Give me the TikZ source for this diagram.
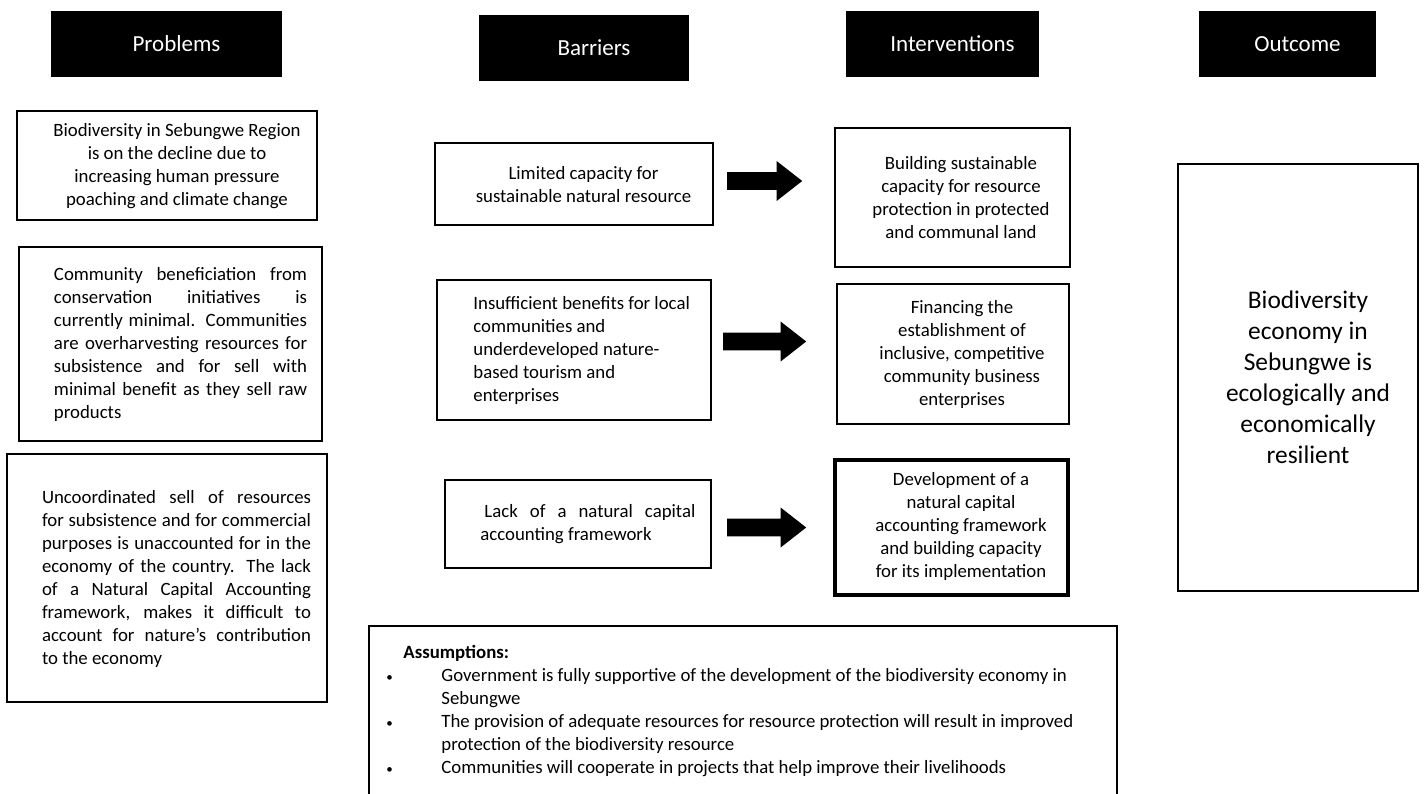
\documentclass[tikz,border=0pt]{standalone}
\usepackage{fontspec}
\setmainfont{Carlito}
\usetikzlibrary{shapes.arrows}
\newcommand\jl[2]{\makebox[#1][s]{#2}}
\newcommand\smallbullet{\makebox[27.5pt][l]{\fontsize{6.5}{6.5}\selectfont •}}
\tikzset{
 hdr/.style={fill=black,text=white,inner sep=0pt,font=\fontsize{11.5}{14}\selectfont},
 box/.style={draw=black,line width=1pt,inner sep=0pt},
 txt/.style={inner sep=0pt,font=\fontsize{9.4}{11.5}\selectfont},
 bigtxt/.style={inner sep=0pt,font=\fontsize{12.7}{15.5}\selectfont},
 blockarrow/.style={single arrow,fill=black,draw=none,inner sep=4.25pt,text height=0pt,text depth=0pt,single arrow head extend=5.5pt,single arrow tip angle=76},
}
\begin{document}
\begin{tikzpicture}[x=0.5pt,y=-0.5pt]
\clip (0,0) rectangle (1424,793);
\fill[white] (0,0) rectangle (1424,793);
% headers
\node[hdr,minimum width=115.5pt,minimum height=33pt] (hp) at (166.5,44) {\hspace*{10pt}Problems};
\node[hdr,minimum width=105pt,minimum height=33pt] (hb) at (584,48) {\hspace*{10pt}Barriers};
\node[hdr,minimum width=96.5pt,minimum height=33pt] (hi) at (942.5,44) {\hspace*{10pt}Interventions};
\node[hdr,minimum width=88.5pt,minimum height=33pt] (ho) at (1287.5,44) {\hspace*{10pt}Outcome};
% problem boxes
\node[box,minimum width=150pt,minimum height=54.5pt] (p1) at (167,165.5) {};
\node[txt,align=center] (p1t) at (177,166.5) {Biodiversity in Sebungwe Region\\is on the decline due to\\increasing human pressure\\poaching and climate change};
\node[box,minimum width=151.5pt,minimum height=97pt] (p2) at (170.5,344) {};
\node[txt,text width=126.5pt,align=flush left] (p2t) at (180.5,344) {\jl{126.5pt}{Community beneficiation from}\\\jl{126.5pt}{conservation initiatives is}\\\jl{126.5pt}{currently minimal. Communities}\\\jl{126.5pt}{are overharvesting resources for}\\\jl{126.5pt}{subsistence and for sell with}\\\jl{126.5pt}{minimal benefit as they sell raw}\\products};
\node[box,minimum width=160pt,minimum height=124pt] (p3) at (167,578) {};
\node[txt,text width=134.5pt,align=flush left] (p3t) at (176.5,578.5) {\jl{134.5pt}{Uncoordinated sell of resources}\\\jl{134.5pt}{for subsistence and for commercial}\\\jl{134.5pt}{purposes is unaccounted for in the}\\\jl{134.5pt}{economy of the country. The lack}\\\jl{134.5pt}{of a Natural Capital Accounting}\\\jl{134.5pt}{framework, makes it difficult to}\\\jl{134.5pt}{account for nature’s contribution}\\to the economy};
% barrier boxes
\node[box,minimum width=139pt,minimum height=41pt] (b1) at (574,184) {};
\node[txt,align=center] (b1t) at (583.5,184.5) {Limited capacity for\\sustainable natural resource};
\node[box,minimum width=137pt,minimum height=70pt] (b2) at (574,350) {};
\node[txt,text width=125pt,align=flush left,anchor=west] (b2t) at (473,350) {Insufficient benefits for local\\communities and\\underdeveloped nature-\\based tourism and\\enterprises};
\node[box,minimum width=133pt,minimum height=44pt] (b3) at (578,524) {};
\node[txt,text width=108pt,align=flush left,anchor=west] (b3t) at (480,524.5) {\hspace*{2pt}\jl{105.5pt}{Lack of a natural capital}\\accounting framework};
% intervention boxes
\node[box,minimum width=117.5pt,minimum height=69.5pt] (i1) at (952.5,197.5) {};
\node[txt,align=center] (i1t) at (961,197.5) {Building sustainable\\capacity for resource\\protection in protected\\and communal land};
\node[box,minimum width=116pt,minimum height=70pt] (i2) at (953,354) {};
\node[txt,align=center] (i2t) at (962,354) {Financing the\\establishment of\\inclusive, competitive\\community business\\enterprises};
\node[box,line width=1.8pt,minimum width=116.5pt,minimum height=67.5pt] (i3) at (951.5,527.5) {};
\node[txt,align=center] (i3t) at (961,526) {Development of a\\natural capital\\accounting framework\\and building capacity\\for its implementation};
% outcome
\node[box,minimum width=120pt,minimum height=213.5pt] (out) at (1298,377.5) {};
\node[bigtxt,align=center] (outt) at (1308,377.5) {Biodiversity\\economy in\\Sebungwe is\\ecologically and\\economically\\resilient};
% arrows
\node[blockarrow,minimum height=37.5pt] (a1) at (759,181) {};
\node[blockarrow,minimum height=41.5pt] (a2) at (759,341.5) {};
\node[blockarrow,minimum height=39.5pt] (a3) at (761,527.5) {};
% assumptions
\node[box,minimum width=374pt,minimum height=97pt] (asm) at (743,723) {};
\node[txt,text width=370pt,align=flush left,anchor=west] (asmt) at (386,710.5) {\hspace*{8.5pt}\textbf{Assumptions:}\\
\smallbullet Government is fully supportive of the development of the biodiversity economy in\\
\hspace*{27.5pt}Sebungwe\\
\smallbullet The provision of adequate resources for resource protection will result in improved\\
\hspace*{27.5pt}protection of the biodiversity resource\\
\smallbullet Communities will cooperate in projects that help improve their livelihoods};
\end{tikzpicture}
\end{document}
